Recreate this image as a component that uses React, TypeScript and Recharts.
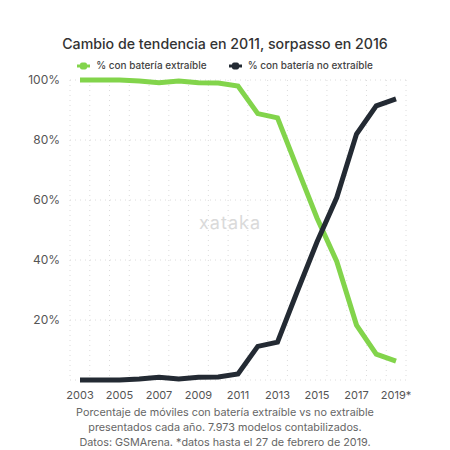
import { ComposedChart, Line, XAxis, YAxis, CartesianGrid } from 'recharts';

const years = ['2003', '2004', '2005', '2006', '2007', '2008', '2009', '2010', '2011', '2012', '2013', '2014', '2015', '2016', '2017', '2018', '2019*'];
const removable = [100, 100, 100, 99.7, 99.1, 99.7, 99.1, 99, 98, 88.8, 87.4, 70.6, 54, 39.5, 18.3, 8.6, 6.3];
const nonRemovable = [0, 0, 0, 0.3, 0.9, 0.3, 0.9, 1, 2, 11.2, 12.6, 29.5, 46, 60.8, 82, 91.4, 93.7];
const yTicks = [0, 20, 40, 60, 80, 100];

const GREEN = '#82d44b';
const DARK = '#232a33';
const FONT = 'Inter, "Noto Sans", sans-serif';

const data = years.map((year, i) => ({
  year,
  removable: removable[i],
  nonRemovable: nonRemovable[i],
}));

const LegendIcon = ({ color }: { color: string }) => (
  <svg width={13} height={10} style={{ marginRight: 6, verticalAlign: 'middle' }}>
    <line x1={0} y1={5} x2={13} y2={5} stroke={color} strokeWidth={3} />
    <rect x={3} y={1.5} width={7} height={7} rx={2} fill={color} />
  </svg>
);

// vertical dotted lines sit on the band edges, not on the year centers
const bandEdges = ({ offset }: any) =>
  Array.from({ length: years.length + 1 }, (_, i) => offset.left + (i * offset.width) / years.length);

export default function App() {
  return (
    <div style={{ position: 'absolute', left: 0, top: 0, width: 450, height: 450, background: '#fff', fontFamily: FONT }}>
      <div style={{ position: 'absolute', top: 35, left: 0, width: 450, textAlign: 'center', fontSize: 14.2, fontWeight: 500, color: '#333' }}>
        Cambio de tendencia en 2011, sorpasso en 2016
      </div>
      <div style={{ position: 'absolute', top: 59, left: 0, width: 450, display: 'flex', justifyContent: 'center', gap: 22, fontSize: 10, fontWeight: 500, color: '#444' }}>
        <span><LegendIcon color={GREEN} />% con batería extraíble</span>
        <span><LegendIcon color={DARK} />% con batería no extraíble</span>
      </div>
      <div style={{ position: 'absolute', top: 212, left: 190, width: 80, textAlign: 'center', fontSize: 18, color: '#dadada', letterSpacing: 1 }}>
        xataka
      </div>
      <ComposedChart width={450} height={450} data={data} margin={{ top: 80, right: 44, left: 8, bottom: 40 }}>
        <CartesianGrid stroke="#dcdcdc" strokeDasharray="1 4" verticalCoordinatesGenerator={bandEdges} />
        <XAxis
          dataKey="year"
          interval={1}
          padding={{ left: 10, right: 10 }}
          axisLine={false}
          tickLine={false}
          tick={{ fontSize: 11, fill: '#555', fontFamily: FONT }}
          tickMargin={5}
        />
        <YAxis
          domain={[0, 100]}
          ticks={yTicks}
          width={62}
          axisLine={false}
          tickLine={false}
          tickMargin={4}
          tickFormatter={(v: number) => (v === 0 ? '' : `${v}%`)}
          tick={{ fontSize: 12, fill: '#555', fontFamily: FONT }}
        />
        <Line type="linear" dataKey="removable" stroke={GREEN} strokeWidth={5} dot={false} isAnimationActive={false} />
        <Line type="linear" dataKey="nonRemovable" stroke={DARK} strokeWidth={5} dot={false} isAnimationActive={false} />
      </ComposedChart>
      <div style={{ position: 'absolute', top: 405, left: 0, width: 450, textAlign: 'center', fontSize: 10.8, lineHeight: '15px', color: '#666' }}>
        Porcentaje de móviles con batería extraíble vs no extraíble<br />
        presentados cada año. 7.973 modelos contabilizados.<br />
        Datos: GSMArena. *datos hasta el 27 de febrero de 2019.
      </div>
    </div>
  );
}
